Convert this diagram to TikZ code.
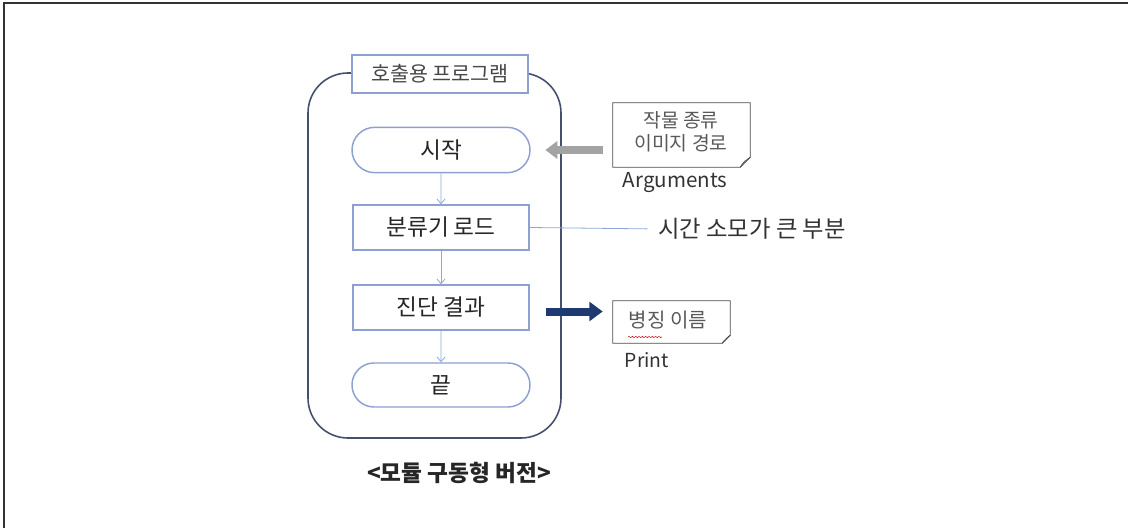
\documentclass[tikz,border=0pt]{standalone}
\usepackage{fontspec}
\setmainfont{Noto Sans CJK KR}
\usetikzlibrary{arrows.meta,shapes.misc,decorations.pathmorphing}
\definecolor{framegray}{HTML}{333333}
\definecolor{outerline}{HTML}{44506E}
\definecolor{boxline}{HTML}{8E9FD2}
\definecolor{flowline}{HTML}{8FA6D8}
\definecolor{argsgray}{HTML}{A3A3A3}
\definecolor{navy}{HTML}{1F3A70}
\definecolor{notetext}{HTML}{595959}
\definecolor{maintext}{HTML}{262626}
\tikzset{
  progframe/.style={draw=outerline, line width=1.2pt, rounded corners=30pt,
    minimum width=189.75pt, minimum height=273.75pt, inner sep=0pt},
  titlebox/.style={draw=boxline, fill=white, line width=1.1pt, minimum width=132pt,
    minimum height=28.5pt, inner sep=0pt, font=\fontsize{15.5}{18}\selectfont, text=maintext!85},
  terminal/.style={rounded rectangle, draw=boxline, line width=1.1pt, minimum width=133.5pt,
    minimum height=34pt, inner sep=0pt, font=\fontsize{17}{20}\selectfont, text=maintext},
  procbox/.style={rectangle, draw=boxline, line width=1.1pt, minimum width=132pt,
    minimum height=33.75pt, inner sep=0pt, font=\fontsize{17}{20}\selectfont, text=maintext},
  flow/.style={draw=flowline, line width=0.6pt, -{Straight Barb[length=3.5pt,width=6pt]}},
  notearea/.style={inner sep=0pt, align=center, text=notetext},
  noteline/.style={draw=black!70, line width=0.6pt},
  plainlabel/.style={inner sep=0pt, text=framegray},
}
\begin{document}
\begin{tikzpicture}[x=0.75pt, y=-0.75pt]
\useasboundingbox (0,0) rectangle (1128,528);
% page frame (top and left edges)
\coordinate (fTL) at (4,3);
\coordinate (fTR) at (1128,3);
\coordinate (fBL) at (4,528);
\draw[framegray, line width=1.6pt] (fTR) -- (fTL) -- (fBL);

% calling program container
\node[progframe] (prog) at (434.5,255.5) {};
\node[titlebox] (title) at (440,74) {호출용 프로그램};

% flow steps
\node[terminal] (start) at (441,150) {시작};
\node[procbox] (load) at (441,227.5) {분류기 로드};
\node[procbox] (diag) at (441,307.5) {진단 결과};
\node[terminal, minimum height=33pt] (finish) at (441,385) {끝};

\draw[flow] (start) -- (load);
\draw[flow] (load) -- (diag);
\draw[flow] (diag) -- (finish);

% caption
\node[inner sep=0pt, font=\fontsize{17}{20}\bfseries\selectfont, text=maintext] (caption) at (459,473) {<모듈 구동형 버전>};

% arguments note
\node[notearea, minimum width=102.75pt, minimum height=48pt] (args) at (681.5,135) {};
\node[notearea, font=\fontsize{14.5}{17}\selectfont] (argstext) at (681,131.5) {작물 종류\\이미지 경로};
\draw[noteline] (args.north west) -- (args.north east) -- ([yshift=7.5pt]args.south east)
  -- ([xshift=-7.5pt]args.south east) -- (args.south west) -- cycle;
\draw[noteline] ([xshift=-7.5pt]args.south east) .. controls ([xshift=-5.25pt,yshift=3.75pt]args.south east) .. ([yshift=7.5pt]args.south east);
\node[plainlabel, font=\fontsize{15.4}{18}\selectfont] (argslbl) at (675,183) {Arguments};
\draw[argsgray, line width=6pt, -{Triangle[length=9pt,width=13pt]}, shorten <=7.5pt, shorten >=11pt]
  (args.west |- start.east) -- (start.east);

% time-consuming part remark
\node[plainlabel, anchor=west, font=\fontsize{17.5}{20}\selectfont] (timelbl) at (658,229) {시간 소모가 큰 부분};
\draw[flowline, line width=0.6pt, shorten >=8pt] (load.east) -- (timelbl.west);

% printed result note
\node[notearea, minimum width=87.75pt, minimum height=31.5pt] (pnote) at (671.5,322) {};
\node[notearea, font=\fontsize{15}{18}\selectfont] (ptext) at (668,320) {병징 이름};
\draw[noteline] (pnote.north west) -- (pnote.north east) -- ([yshift=6pt]pnote.south east)
  -- ([xshift=-6pt]pnote.south east) -- (pnote.south west) -- cycle;
\draw[noteline] ([xshift=-6pt]pnote.south east) .. controls ([xshift=-3.75pt,yshift=3pt]pnote.south east) .. ([yshift=6pt]pnote.south east);
\coordinate (sqA) at (628,337);
\coordinate (sqB) at (662,337);
\draw[red!80!black, line width=0.4pt, decorate, decoration={snake, amplitude=0.4pt, segment length=2.5pt}] (sqA) -- (sqB);
\node[plainlabel, font=\fontsize{14.5}{17}\selectfont] (plbl) at (647,360) {Print};
\draw[navy, line width=6pt, -{Triangle[length=10pt,width=14pt]}, shorten <=12pt, shorten >=7.5pt]
  ([yshift=-3pt]diag.east) -- ([yshift=-3pt]diag.east -| pnote.west);
\end{tikzpicture}
\end{document}
